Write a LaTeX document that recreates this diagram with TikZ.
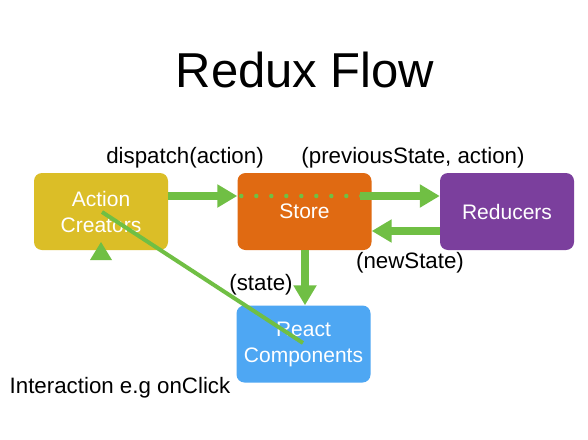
\documentclass[tikz,border=0pt]{standalone}
\usepackage{fontspec}
\setmainfont{Liberation Sans}
\usetikzlibrary{arrows.meta,positioning,calc}

\definecolor{actionyellow}{HTML}{DBBE27}
\definecolor{storeorange}{HTML}{E06A12}
\definecolor{reducerpurple}{HTML}{7B3F9D}
\definecolor{reactblue}{HTML}{4EA7F3}
\definecolor{flowgreen}{HTML}{70BF44}

\begin{document}
\begin{tikzpicture}[
  x=1pt, y=-1pt,
  box/.style={rounded corners=8pt, minimum width=134pt, minimum height=77pt,
              inner sep=0pt, align=center, text=white,
              font=\fontsize{21}{26}\selectfont},
  lbl/.style={anchor=base, inner sep=0pt, font=\fontsize{22.3}{26}\selectfont},
  flow/.style={-{Triangle[length=20pt,width=22pt]}, line width=7.5pt, draw=flowgreen},
  trace/.style={line width=4.5pt, draw=flowgreen, line cap=round, dash pattern=on 0pt off 15pt},
  touch/.style={line width=4pt, draw=flowgreen},
]
\useasboundingbox (0,0) rectangle (588,439);
\fill[white] (0,0) rectangle (588,439);

% --- Title ---
\node[anchor=base, inner sep=0pt, font=\fontsize{49}{59}\selectfont] (title) at (305,87) {Redux Flow};

% --- Boxes ---
\node[box, fill=actionyellow] (action) at (101,211.5) {Action\\Creators};
\node[box, fill=storeorange] (store) at (304.5,211.5) {Store};
\node[box, fill=reducerpurple] (reducers) at (507,211.5) {Reducers};
\node[box, fill=reactblue] (react) at (303.5,344) {React\\Components};

% --- Labels ---
\node[lbl] (dispatchlbl) at (185,163) {dispatch(action)};
\node[lbl] (prevlbl) at (413,163) {(previousState, action)};
\node[lbl] (newlbl) at (410,268) {(newState)};
\node[lbl] (statelbl) at (261,290) {(state)};
\node[lbl] (clicklbl) at (120,393) {Interaction e.g onClick};

% --- Connectors ---
\coordinate (storein) at (store.west |- 0,196);
\coordinate (storeout) at (store.east |- 0,196);
\coordinate (storeback) at (store.east |- 0,231);
\draw[flow] (action.east |- storein) -- (storein);
\draw[trace] ($(storein)+(4,0)$) -- (storeout);
\draw[flow] ($(storeout)+(-12,0)$) -- (reducers.west |- storeout);
\draw[flow] (reducers.west |- storeback) -- (storeback);
\draw[flow] (store.south -| 305,0) -- (react.north -| 305,0);

% User interaction back to the creators
\coordinate (tapstart) at (102,212);
\coordinate (tapend) at (303,343);
\draw[touch] (tapstart) -- (tapend);
\fill[flowgreen] (101,242) -- (112,260) -- (90,260) -- cycle;

\end{tikzpicture}
\end{document}
